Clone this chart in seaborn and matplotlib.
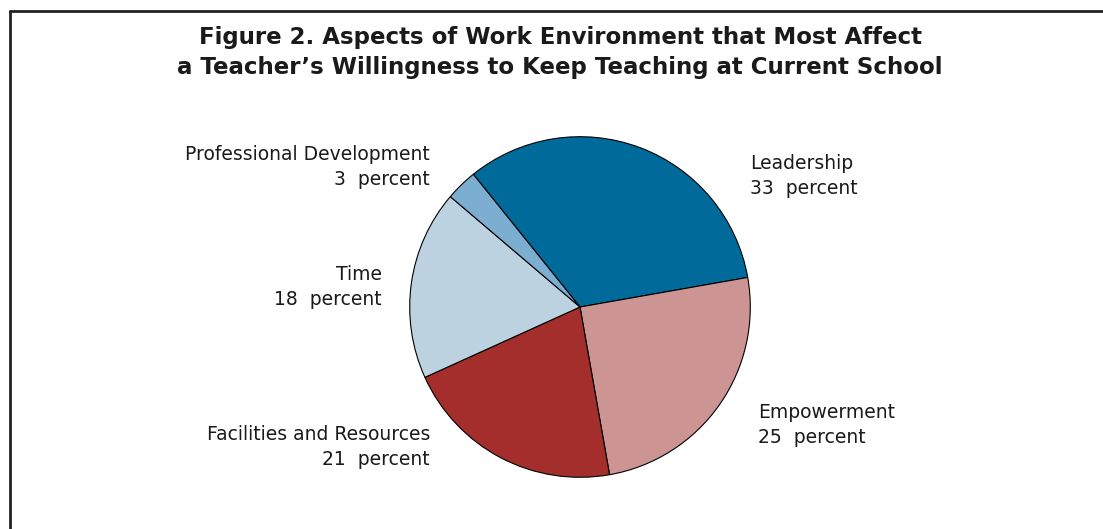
import matplotlib
matplotlib.use("Agg")
import matplotlib.pyplot as plt
import seaborn as sns

# data
labels = ["Leadership", "Empowerment", "Facilities and Resources", "Time", "Professional Development"]
percents = [33, 25, 21, 18, 3]
colors = ["#006B9B", "#CC9493", "#A32E2B", "#BCD2E0", "#7BAED0"]

sns.set_theme(style="white")
plt.rcParams['font.family'] = ['DejaVu Sans']

W, H = 1103, 529
fig = plt.figure(figsize=(W / 100, H / 100), dpi=100)

# pie centre (580, 307) px, radius 172 px
cx, cy, r = 580, 307, 172
ax = fig.add_axes([(cx - r) / W, (H - cy - r) / H, 2 * r / W, 2 * r / H])
ax.pie(percents, colors=colors, startangle=128.8, counterclock=False,
       wedgeprops=dict(edgecolor="black", linewidth=0.8))
ax.set_xlim(-1.01, 1.01)
ax.set_ylim(-1.01, 1.01)
ax.axis("off")

# title
fig.text(560 / W, 1 - 44 / H, "Figure 2. Aspects of Work Environment that Most Affect",
         ha="center", va="baseline", fontsize=16.5, fontweight="bold", color="#1a1a1a")
fig.text(560 / W, 1 - 74 / H, "a Teacher\u2019s Willingness to Keep Teaching at Current School",
         ha="center", va="baseline", fontsize=16.5, fontweight="bold", color="#1a1a1a")

# slice labels: (x px, y px, alignment)
label_pos = [(750, 176, "left"), (758, 425, "left"), (430, 447, "right"),
             (382, 287, "right"), (430, 167, "right")]
for lab, p, (x, y, ha) in zip(labels, percents, label_pos):
    fig.text(x / W, 1 - y / H, f"{lab}\n{p}  percent", ha=ha, va="center",
             fontsize=13.5, linespacing=1.37, color="#1a1a1a")

# partial frame (top and left)
fig.add_artist(plt.Line2D([10 / W, 10 / W], [0, 1 - 11 / H], color="#222222", linewidth=2))
fig.add_artist(plt.Line2D([10 / W, 1], [1 - 11 / H, 1 - 11 / H], color="#222222", linewidth=2))

fig.savefig("out.png", dpi=100)
